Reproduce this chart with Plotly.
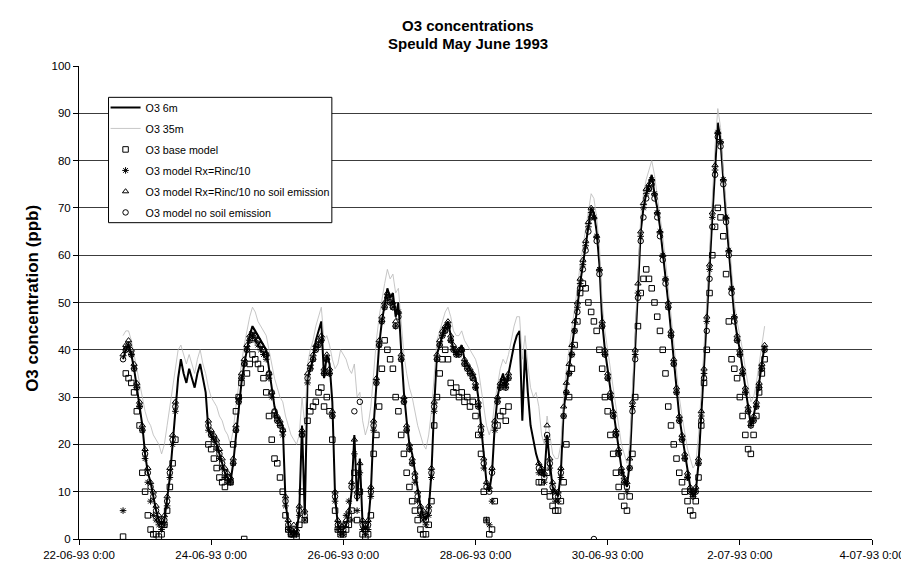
import pandas as pd
import plotly.graph_objects as go

START = "1993-06-22 16:00"   # first hourly record
FONT = "Liberation Sans, Arial, sans-serif"

# ---- O3 at 6 m (ppb), hourly, 22-06 16h ... 2-07 9h ----
o3_6m = [
    38, 40, 41, 39, 36, 32, 28, 24,
    18, 14, 12, 9, 6, 4, 3, 4, 8, 13, 20, 28, 34, 38, 35, 33, 36, 34, 32, 35, 37, 34, 31, 23,
    22, 21, 20, 18, 16, 14, 13, 12, 16, 22, 28, 33, 37, 40, 43, 45, 44, 43, 42, 41, 40, 36, 32, 28,
    26, 25, 24, 8, 3, 1, 2, 1, 6, 24, 5, 34, 36, 38, 42, 44, 46, 34, 39, 37, 29, 9, 3, 2,
    2, 3, 5, 10, 22, 8, 17, 3, 2, 3, 10, 24, 33, 41, 46, 50, 53, 51, 52, 47, 50, 40, 31, 25,
    20, 18, 14, 10, 7, 5, 4, 6, 14, 28, 39, 41, 43, 45, 46, 43, 40, 39, 40, 41, 38, 37, 36, 35,
    34, 30, 24, 17, 12, 10, 14, 24, 30, 33, 35, 32, 35, 38, 41, 43, 44, 25, 40, 31, 24, 21, 18, 16,
    15, 13, 22, 16, 11, 10, 9, 14, 27, 32, 36, 40, 45, 49, 54, 58, 62, 66, 70, 69, 65, 58, 46, 40,
    36, 31, 27, 24, 19, 15, 13, 11, 16, 28, 39, 53, 65, 70, 73, 75, 77, 73, 70, 66, 61, 56, 50, 44,
    38, 32, 26, 22, 18, 14, 11, 9, 10, 16, 26, 35, 46, 57, 68, 79, 88, 84, 75, 68, 61, 53, 47, 43,
    40, 36, 32, 28, 24, 26, 29, 33, 37, 41,
]

# ---- O3 at 35 m (ppb) ----
o3_35m = [
    43, 44, 44, 42, 39, 36, 33, 30,
    27, 25, 24, 22, 21, 20, 18, 20, 24, 28, 32, 36, 40, 41, 39, 37, 39, 37, 35, 38, 40, 37, 35, 32,
    30, 29, 28, 26, 25, 23, 22, 20, 23, 28, 33, 37, 41, 44, 47, 49, 48, 46, 45, 44, 43, 40, 37, 34,
    32, 30, 29, 26, 24, 22, 21, 20, 22, 30, 24, 37, 40, 42, 45, 47, 49, 42, 43, 41, 38, 36, 37, 40,
    39, 38, 36, 35, 37, 30, 31, 25, 22, 24, 28, 36, 42, 47, 51, 54, 57, 55, 56, 52, 53, 46, 39, 35,
    32, 30, 27, 24, 22, 20, 19, 22, 27, 35, 42, 44, 46, 48, 49, 47, 44, 43, 43, 44, 42, 41, 40, 39,
    38, 36, 32, 28, 24, 22, 24, 29, 33, 36, 38, 37, 39, 42, 45, 47, 47, 38, 43, 37, 32, 30, 31, 28,
    22, 20, 26, 22, 18, 17, 17, 20, 30, 36, 40, 44, 49, 53, 58, 62, 66, 70, 73, 72, 68, 62, 50, 44,
    40, 35, 31, 28, 24, 20, 18, 16, 20, 32, 44, 58, 68, 73, 76, 78, 80, 77, 73, 69, 64, 59, 53, 47,
    42, 36, 30, 26, 22, 19, 17, 15, 16, 22, 31, 40, 50, 61, 72, 83, 91, 87, 78, 71, 64, 56, 50, 46,
    43, 40, 36, 32, 29, 30, 33, 37, 41, 45,
]

# ---- O3 base model ----
base_model = [
    0.5, 35, 34, 33, 31, 27, 24, 14,
    10, 5, 2, 1, 1, 0.5, 1, 3, 6, 11, 16, 21, *[None] * 11, 20,
    19, 17, 15, 13, 12, 11, 13, 12, 20, 27, 30, 33, 0, 35, 37, 39, 38, 37, 36, 34, 31, 26, 21, 17,
    16, 13, 10, 5, 2, 1, 1, 0.5, 3, 10, 4, 25, 27, 28, 29, 31, 32, 28, 30, 27, 21, 6, 2, 1,
    1, 2, 3, 6, 14, 4, 10, 1, 0.5, 1, 5, 18, 22, 28, 36, 42, 40, 38, 36, 30, 27, 22, 18, 14,
    11, 8, 6, 4, 2, 1, 1, 3, 8, 24, 30, 35, 38, 40, 38, 33, 31, 32, 30, 31, 29, 30, 28, 29,
    26, 22, 18, 10, 4, 1, 2, 8, 24, 26, 27, 25, 28, *[None] * 10, 12,
    12, 10, 14, 9, 7, 6, 6, 8, 12, 20, 30, 36, 41, 46, 52, 54, 53, 50, 48, 46, 44, 40, 36, 30,
    27, 22, 18, 14, 11, 9, 7, 6, 9, 18, 30, 45, 52, 55, 57, 55, 53, 50, 47, 44, 40, 35, 28, 24,
    20, 17, 14, 12, 10, 8, 6, 5, 8, 13, 24, 33, 40, 52, 60, 66, 70, 68, 64, 56, 46, 38, 36, 34,
    30, 26, 22, 19, 18, 22, 26, 31, 35, 38,
]

# ---- O3 model Rx=Rinc/10 ----
model_rx = [
    6, 40, 41, 39, 36, 32, 28, 23,
    17, 12, 8, 5, 4, 3, 2, 3, 7, 13, 20, 27, *[None] * 11, 23,
    22, 21, 19, 17, 15, 13, 12, 12, 16, 23, 29, 34, 37, 40, 42, 43, 42, 41, 40, 39, 38, 34, 30, 26,
    25, 24, 22, 7, 2, 1, 1, 1, 5, 22, 4, 33, 36, 38, 40, 41, 42, 35, 38, 35, 26, 8, 2, 1,
    1, 5, 8, 4, 18, 6, 14, 2, 1, 2, 9, 23, 33, 41, 46, 49, 51, 50, 49, 45, 48, 38, 29, 23,
    19, 16, 12, 8, 5, 4, 3, 5, 13, 27, 38, 41, 43, 44, 45, 42, 40, 39, 39, 40, 37, 36, 35, 34,
    32, 28, 22, 15, 4, 3, 8, 23, 29, 32, 33, 32, 34, *[None] * 10, 14,
    14, 12, 21, 15, 10, 8, 8, 13, 26, 31, 35, 39, 44, 49, 54, 58, 62, 66, 69, 68, 64, 57, 45, 39,
    34, 30, 26, 22, 18, 14, 12, 10, 15, 28, 39, 52, 64, 70, 73, 74, 76, 73, 69, 65, 60, 55, 49, 43,
    37, 31, 25, 21, 17, 13, 10, 9, 10, 16, 26, 35, 46, 57, 68, 78, 86, 84, 76, 68, 61, 53, 47, 42,
    39, 35, 31, 27, 24, 25, 28, 32, 36, 40,
]

# ---- O3 model Rx=Rinc/10 no soil emission ----
model_rx_nosoil = [
    39, 41, 42, 40, 37, 33, 29, 24,
    19, 15, 12, 10, 7, 5, 4, 5, 9, 15, 22, 29, *[None] * 11, 25,
    23, 22, 21, 19, 17, 15, 14, 13, 17, 24, 30, 35, 38, 41, 43, 44, 43, 42, 41, 40, 39, 35, 31, 27,
    26, 25, 23, 9, 4, 2, 3, 2, 7, 23, 6, 35, 37, 39, 41, 42, 43, 36, 39, 36, 27, 10, 4, 3,
    3, 4, 6, 12, 21, 10, 16, 4, 3, 4, 11, 25, 34, 42, 47, 50, 52, 51, 50, 46, 48, 39, 30, 24,
    20, 17, 14, 10, 7, 6, 5, 7, 15, 29, 39, 42, 44, 45, 46, 43, 41, 40, 40, 40, 38, 37, 36, 35,
    33, 29, 24, 17, 12, 11, 15, 25, 30, 33, 34, 33, 35, *[None] * 10, 16,
    15, 14, 24, 17, 12, 10, 10, 15, 28, 33, 37, 41, 46, 50, 55, 59, 63, 67, 70, 68, 64, 57, 46, 40,
    35, 31, 27, 23, 19, 15, 13, 12, 17, 29, 40, 54, 65, 71, 74, 75, 76, 73, 69, 65, 60, 55, 50, 44,
    38, 32, 26, 22, 18, 14, 11, 10, 11, 17, 27, 36, 47, 58, 69, 79, 86, 84, 76, 68, 61, 53, 47, 43,
    40, 36, 32, 28, 25, 26, 29, 33, 37, 41,
]

# ---- O3 model no soil emission ----
model_nosoil = [
    38, 40, 41, 39, 36, 32, 28, 23,
    18, 14, 11, 9, 6, 4, 3, 4, 8, 14, 21, 28, *[None] * 11, 24,
    22, 21, 20, 18, 16, 14, 13, 12, 16, 23, 29, 34, 37, 40, 42, 43, 43, 42, 41, 40, 39, 35, 31, 27,
    25, 24, 23, 8, 3, 1, 2, 1, 6, 22, 5, 34, 36, 38, 40, 41, 42, 35, 38, 35, 26, 9, 3, 2,
    2, 3, 5, 11, 27, 9, 29, 3, 2, 3, 10, 24, 33, 41, 46, 49, 51, 50, 49, 45, 47, 38, 29, 23,
    19, 16, 13, 9, 6, 5, 4, 6, 14, 28, 38, 41, 43, 44, 45, 42, 40, 39, 39, 40, 37, 36, 35, 34,
    32, 28, 23, 16, 11, 10, 14, 24, 29, 32, 33, 32, 34, *[None] * 10, 15,
    14, 13, 22, 16, 11, 9, 9, 14, 26, 31, 35, 39, 44, 48, 53, 57, 61, 65, 68, 0, 63, 56, 45, 39,
    34, 30, 26, 22, 18, 14, 12, 11, 15, 27, 38, 51, 63, 68, 72, 74, 75, 72, 68, 64, 59, 54, 49, 43,
    37, 31, 25, 21, 17, 13, 10, 9, 10, 16, 25, 34, 44, 55, 66, 77, 85, 83, 75, 67, 60, 52, 46, 42,
    39, 35, 31, 27, 24, 25, 28, 32, 36, 40,
]

series_names = [
    "O3 6m", "O3 35m", "O3 base model", "O3 model Rx=Rinc/10",
    "O3 model Rx=Rinc/10 no soil emission", "O3 model no soil emission",
]
title_lines = ["O3 concentrations", "Speuld May June 1993"]
y_title = "O3 concentration (ppb)"

N = len(o3_6m)
for s in (o3_35m, base_model, model_rx, model_rx_nosoil, model_nosoil):
    assert len(s) == N, (len(s), N)
times = pd.date_range(START, periods=N, freq="h")

# plot-area geometry in pixels (for converting placement to paper coords)
W, H = 909, 565
ML, MR, MT, MB = 71, 32, 58, 24
PW, PH = W - ML - MR, H - MT - MB


def px_x(px):
    return (px - ML) / PW


def px_y(py):
    return (H - MB - py) / PH


fig = go.Figure()
fig.add_trace(go.Scatter(x=times, y=o3_6m, name=series_names[0], mode="lines",
                         line=dict(color="black", width=2), legendgroup="a"))
fig.add_trace(go.Scatter(x=times, y=o3_35m, name=series_names[1], mode="lines",
                         line=dict(color="#b8b8b8", width=0.8), legendgroup="b"))
marker_defs = [
    (base_model, series_names[2], "square-open", 5.5, "c"),
    (model_rx, series_names[3], "asterisk-open", 5.5, "d"),
    (model_rx_nosoil, series_names[4], "triangle-up-open", 5.5, "e"),
    (model_nosoil, series_names[5], "circle-open", 5.5, "f"),
]
for vals, nm, sym, sz, grp in marker_defs:
    fig.add_trace(go.Scatter(x=times, y=vals, name=nm, mode="markers", legendgroup=grp,
                             marker=dict(symbol=sym, size=sz, color="black",
                                         line=dict(color="black", width=1))))

fig.update_layout(
    width=W, height=H, autosize=False,
    margin=dict(l=ML, r=MR, t=MT, b=MB),
    paper_bgcolor="white", plot_bgcolor="white",
    font=dict(family=FONT, color="black", size=11.5),
    xaxis=dict(type="date", range=["1993-06-22", "1993-07-04"], tick0="1993-06-22",
               dtick=2 * 86400000, tickformat="%-d-%m-%y %-H:%M",
               showline=True, linecolor="black", linewidth=1, mirror=False,
               ticks="outside", ticklen=5, tickcolor="black", showgrid=False,
               zeroline=False, ticklabeloverflow="allow",
               tickfont=dict(size=11.5, family=FONT, color="black")),
    yaxis=dict(range=[0, 100], dtick=10, tick0=0, showgrid=True, gridcolor="#3c3c3c",
               gridwidth=1, showline=True, linecolor="black", linewidth=1,
               ticks="outside", ticklen=5, tickcolor="black", zeroline=False,
               tickfont=dict(size=11.5, family=FONT, color="black")),
    legend=dict(x=px_x(98), y=px_y(85.5), xanchor="left", yanchor="top",
                bgcolor="rgba(0,0,0,0)", borderwidth=0,
                font=dict(size=10.7, family=FONT, color="black"),
                traceorder="grouped", tracegroupgap=2, itemwidth=30),
    showlegend=True,
    shapes=[dict(type="rect", xref="paper", yref="paper",
                 x0=px_x(101), x1=px_x(328), y0=px_y(218), y1=px_y(90),
                 line=dict(color="black", width=1), fillcolor="white", layer="above")],
    annotations=[
        dict(text="<b>%s</b>" % title_lines[0], xref="paper", yref="paper",
             x=px_x(466), y=px_y(17), xanchor="center", yanchor="middle", showarrow=False,
             font=dict(family=FONT, size=15, color="black")),
        dict(text="<b>%s</b>" % title_lines[1], xref="paper", yref="paper",
             x=px_x(466), y=px_y(35), xanchor="center", yanchor="middle", showarrow=False,
             font=dict(family=FONT, size=15, color="black")),
        dict(text="<b>%s</b>" % y_title, textangle=-90,
             xref="paper", yref="paper", x=px_x(23), y=px_y(295),
             xanchor="center", yanchor="middle", showarrow=False,
             font=dict(family=FONT, size=17, color="black")),
    ],
)

fig.write_html("out.html")
